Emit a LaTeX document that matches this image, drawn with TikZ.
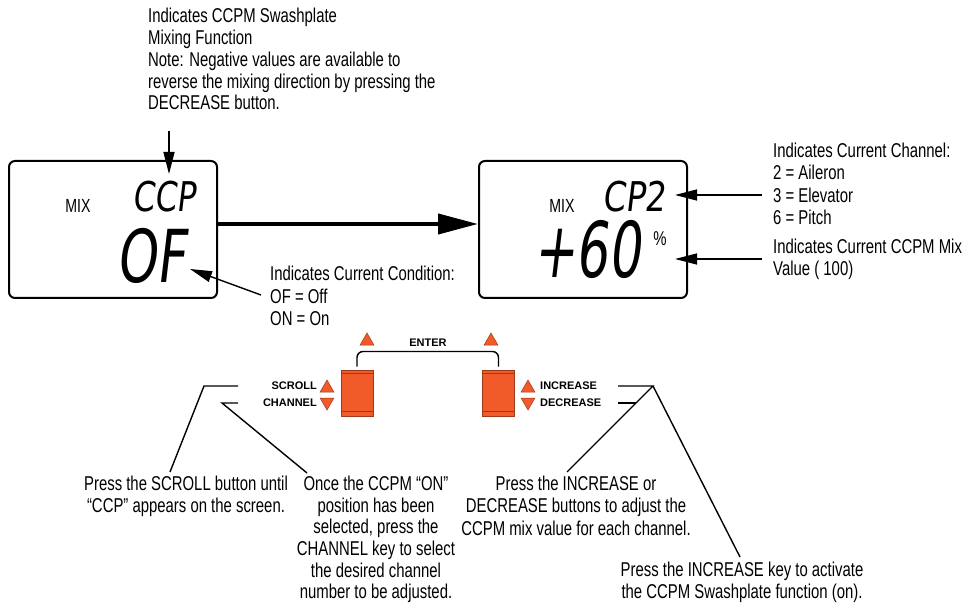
\documentclass[tikz,border=0pt]{standalone}
\usepackage{fontspec}
\setmainfont{Liberation Sans}[FakeStretch=0.745]
\newfontfamily\keyfont{Liberation Sans}
\newfontfamily\lcdA{DejaVu Sans}[FakeSlant=0.12,FakeStretch=0.77]
\newfontfamily\lcdB{DejaVu Sans}[FakeSlant=0.12,FakeStretch=0.70]
\newfontfamily\lcdC{DejaVu Sans}[FakeSlant=0.12,FakeStretch=0.80]
\newfontfamily\lcdD{DejaVu Sans}[FakeSlant=0.12,FakeStretch=0.66]
\usetikzlibrary{arrows.meta,shapes.geometric}
\definecolor{btnred}{HTML}{F15A29}
\definecolor{btnedge}{HTML}{9E3A1C}
\begin{document}
\begin{tikzpicture}[x=1pt,y=-1pt,
  lbl/.style={font=\fontsize{20}{22.5}\selectfont,inner sep=0pt,align=left,anchor=north west},
  ctr/.style={font=\fontsize{20}{22.5}\selectfont,inner sep=0pt,align=center,anchor=north},
  lcd/.style={draw,line width=2pt,rounded corners=6pt,minimum width=208pt,minimum height=137pt,inner sep=0pt},
  seg/.style={inner sep=0pt,anchor=base},
  thinline/.style={line width=1.4pt},
  ptr/.style={line width=1.4pt,-{Triangle[length=22pt,width=11pt]}},
  keylbl/.style={font=\keyfont\bfseries\fontsize{11}{11}\selectfont,inner sep=0pt},
  tri/.style={regular polygon,regular polygon sides=3,fill=btnred,draw=btnedge,line width=0.5pt,inner sep=0pt,minimum size=16pt},
  keybtn/.style={fill=btnred,draw=btnedge,line width=1pt,minimum width=32pt,minimum height=46pt,inner sep=0pt}]
\fill[white] (0,0) rectangle (970,604);
\useasboundingbox (0,0) rectangle (970,604);

% LCD screens
\node[lcd] (L) at (113,229.5) {};
\node[lcd] (R) at (583,229.5) {};
\node[inner sep=0pt,font=\fontsize{19}{19}\selectfont] (mixL) at (78,205.5) {MIX};
\node[inner sep=0pt,font=\fontsize{19}{19}\selectfont] (mixR) at (562,205.5) {MIX};
\node[seg,font=\lcdA\fontsize{41}{41}\selectfont] (ccp) at (164,212) {CCP};
\node[seg,font=\lcdB\fontsize{73}{73}\selectfont] (of) at (151,283) {OF};
\node[seg,font=\lcdC\fontsize{41}{41}\selectfont] (cp2) at (634,212) {CP2};
\node[seg,font=\lcdD\fontsize{77}{77}\selectfont] (val) at (587,278) {+60};
\node[inner sep=0pt,font=\fontsize{20}{20}\selectfont] (pct) at (660,239) {\%};

% big arrow between screens
\draw[line width=4pt,-{Triangle[length=40pt,width=20pt]}] ([yshift=5.5pt]L.east) -- ([yshift=5.5pt]R.west);

% annotations
\node[lbl,font=\fontsize{20}{21.8}\selectfont] (topnote) at (148,8) {Indicates CCPM Swashplate\\Mixing Function\\Note: Negative values are available to\\reverse the mixing direction by pressing the\\DECREASE button.};
\coordinate (topA) at (169,131);
\coordinate (topB) at (169,174);
\draw[ptr] (topA) -- (topB);

\node[lbl] (cond) at (270,266.3) {Indicates Current Condition:\\OF = Off\\ON = On};
\coordinate (condA) at (261,295);
\coordinate (condB) at (190,269);
\draw[ptr] (condA) -- (condB);

\node[lbl] (chan) at (773,142.8) {Indicates Current Channel:\\2 = Aileron\\3 = Elevator\\6 = Pitch};
\coordinate (chA) at (762,195);
\coordinate (chB) at (675,195);
\draw[ptr] (chA) -- (chB);

\node[lbl] (mixval) at (773,238.8) {Indicates Current CCPM Mix\\Value ( 100)};
\coordinate (mvA) at (762,259);
\coordinate (mvB) at (675,259);
\draw[ptr] (mvA) -- (mvB);

% buttons
\node[keybtn] (lbtn) at (357,393) {};
\node[keybtn] (rbtn) at (498.5,393) {};
\foreach \b in {lbtn,rbtn}{
  \draw[btnedge,line width=1pt] ([yshift=-4pt]\b.north west) -- ([yshift=-4pt]\b.north east);
  \draw[btnedge,line width=1pt] ([yshift=5pt]\b.south west) -- ([yshift=5pt]\b.south east);
}
\draw[thinline,rounded corners=6pt] ([yshift=3pt]lbtn.north) -- ++(0,-15) -| ([yshift=3pt]rbtn.north);
\node[tri] (lup) at (367,341) {};
\node[tri] (rup) at (491,341) {};
\node[keylbl] (enter) at (428,343) {ENTER};

\node[tri] (scup) at (327,388) {};
\node[tri,shape border rotate=180] (chdn) at (327,402) {};
\node[tri] (incup) at (528,388) {};
\node[tri,shape border rotate=180] (decdn) at (528,402) {};
\node[keylbl,anchor=east] (scroll) at (317,386) {SCROLL};
\node[keylbl,anchor=east] (channel) at (317,403) {CHANNEL};
\node[keylbl,anchor=west] (inc) at (540,386) {INCREASE};
\node[keylbl,anchor=west] (dec) at (540,403) {DECREASE};

% leader lines
\coordinate (sA) at (238,386);
\coordinate (sB) at (204,386);
\coordinate (sC) at (170,472);
\draw[thinline] (sA) -- (sB) -- (sC);
\coordinate (cA) at (238,403);
\coordinate (cB) at (222,403);
\coordinate (cC) at (307,473);
\draw[thinline] (cA) -- (cB) -- (cC);
\coordinate (iA) at (618,386);
\coordinate (iB) at (653,386);
\coordinate (iC) at (567,472);
\coordinate (iD) at (740,557);
\draw[thinline] (iA) -- (iB) -- (iC);
\draw[thinline] (iB) -- (iD);
\coordinate (dA) at (618,403);
\coordinate (dB) at (636,403);
\draw[thinline] (dA) -- (dB);

% bottom notes
\node[ctr] (scrollnote) at (186,475.8) {Press the SCROLL button until\\“CCP” appears on the screen.};
\node[ctr,font=\fontsize{20}{21.7}\selectfont] (oncenote) at (376,475.8) {Once the CCPM “ON”\\position has been\\selected, press the\\CHANNEL key to select\\the desired channel\\number to be adjusted.};
\node[ctr] (incnote) at (576,475.8) {Press the INCREASE or\\DECREASE buttons to adjust the\\CCPM mix value for each channel.};
\node[ctr] (actnote) at (742,561.8) {Press the INCREASE key to activate\\the CCPM Swashplate function (on).};
\end{tikzpicture}
\end{document}
